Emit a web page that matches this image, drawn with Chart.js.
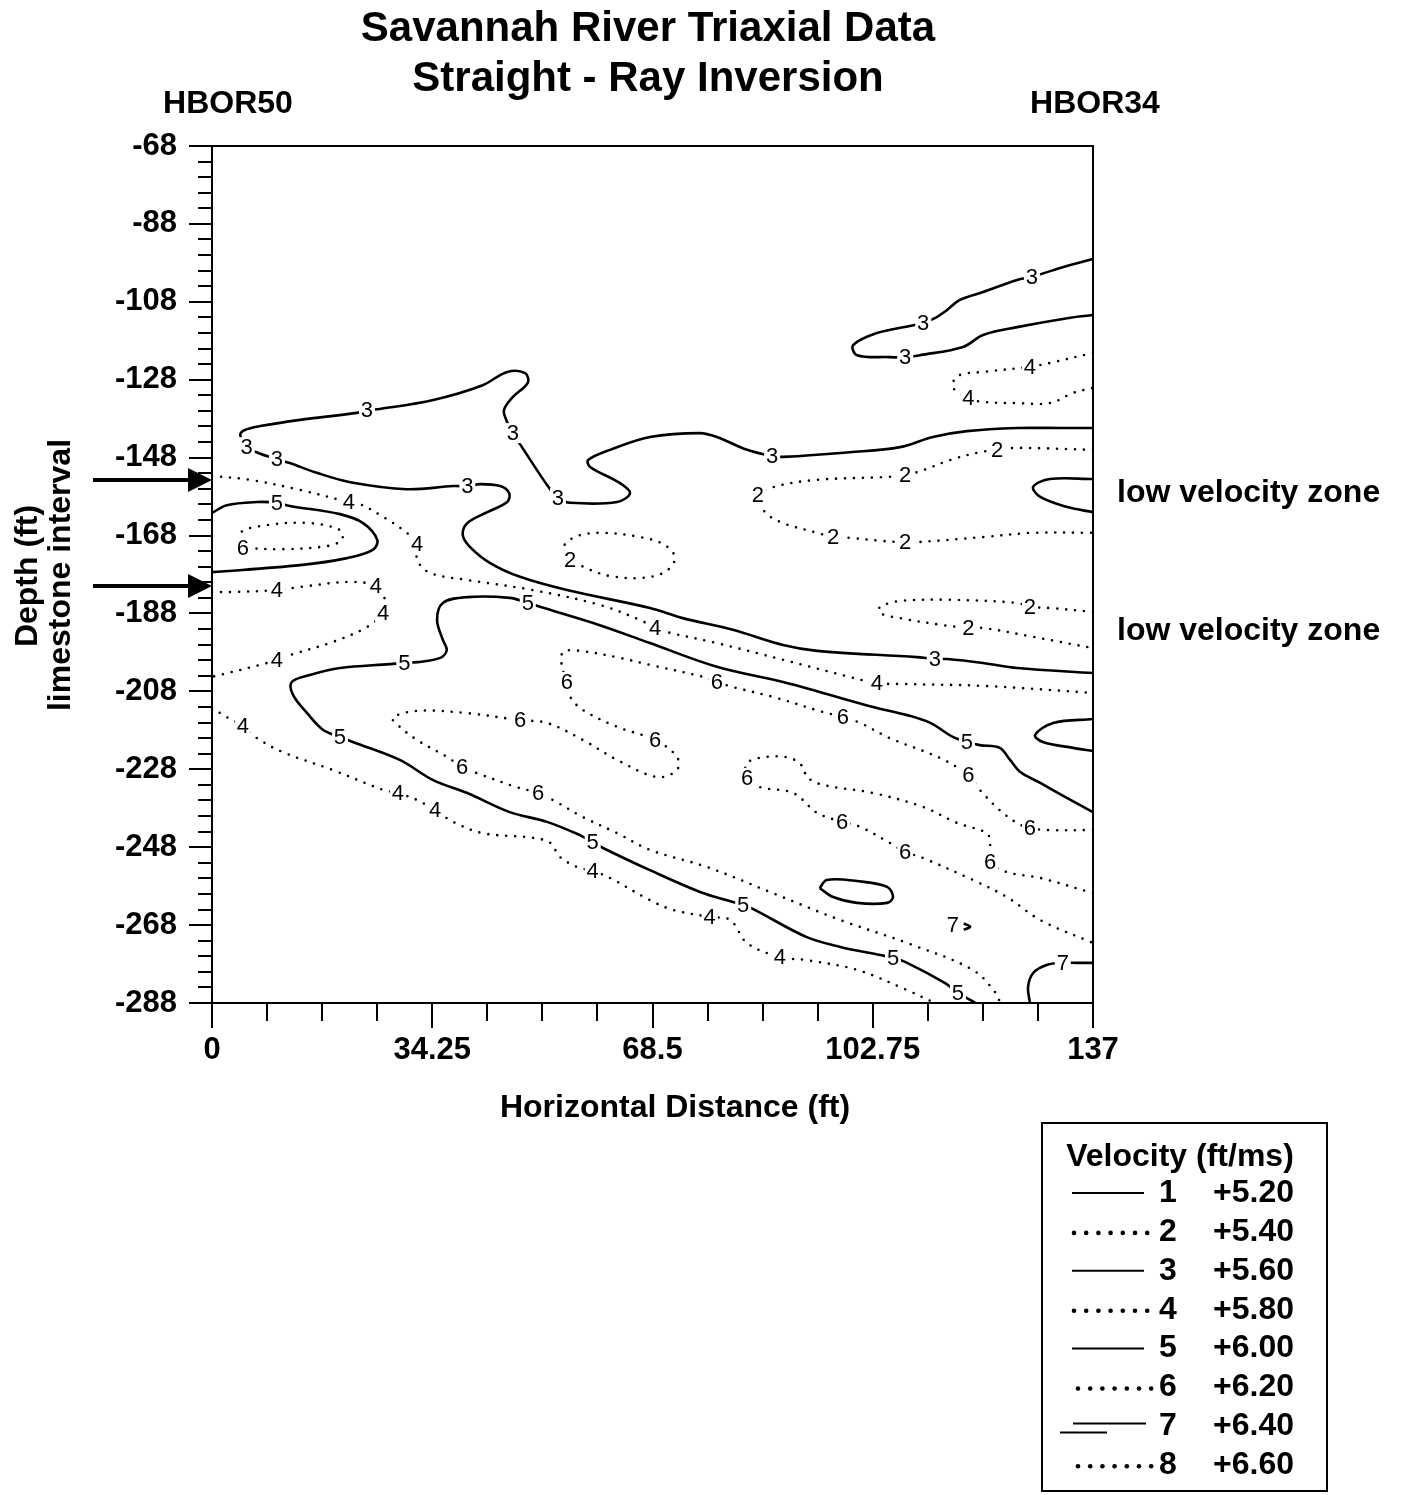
<!DOCTYPE html>
<html>
<head>
<meta charset="utf-8">
<script src="https://cdn.jsdelivr.net/npm/chart.js@4.4.1/dist/chart.umd.min.js"></script>
<style>
  html, body { margin: 0; padding: 0; background: #fff; }
  #wrap { width: 1401px; height: 1495px; }
</style>
</head>
<body>
<div id="wrap"><canvas id="chart" width="1401" height="1495"></canvas></div>
<script>
const FONT = '"Liberation Sans", Arial, Helvetica, sans-serif';

// legend: contour level -> velocity (ft/ms)
const levels = [1, 2, 3, 4, 5, 6, 7, 8];
const velocities = [5.20, 5.40, 5.60, 5.80, 6.00, 6.20, 6.40, 6.60];

// axes (horizontal distance ft, depth ft)
const xTicks = [0, 34.25, 68.5, 102.75, 137];
const xTickLabels = ['0', '34.25', '68.5', '102.75', '137'];
const yTicks = [-68, -88, -108, -128, -148, -168, -188, -208, -228, -248, -268, -288];
const xMinorTicks = Array.from({ length: 17 }, (_, i) => i * 8.5625);
const yMinorTicks = Array.from({ length: 56 }, (_, i) => -68 - i * 4);

// contour lines, [distance, depth]
const c3a = [[137,-140.4],[131.9,-140.4],[125.2,-140.4],[117.4,-141.2],[112.1,-142.7],[107.0,-145.3],[99.2,-146.6],[88.8,-147.8],[87.1,-147.6],[83.2,-146.0],[78.5,-142.7],[75.9,-141.7],[68.1,-142.7],[61.9,-146.0],[58.5,-148.6],[58.8,-150.4],[63.4,-154.5],[65.0,-157.1],[63.0,-159.4],[55.7,-159.6],[53.8,-158.4],[52.3,-155.5],[48.2,-145.3],[46.8,-141.7],[45.9,-138.9],[45.4,-135.8],[46.8,-132.4],[49.1,-128.8],[48.7,-126.3],[45.9,-126.0],[42.1,-129.4],[34.4,-133.2],[26.1,-135.5],[24.1,-135.8],[22.5,-136.5],[13.7,-138.3],[7.5,-139.9],[5.1,-140.9],[4.4,-142.2],[5.4,-145.3],[7.2,-146.8],[10.1,-148.4],[12.1,-149.4],[16.3,-151.9],[21.5,-154.3],[30.3,-156.1],[37.5,-155.3],[39.7,-155.3],[41.7,-154.8],[44.8,-155.3],[46.2,-157.1],[45.9,-159.4],[42.8,-162.0],[39.7,-164.8],[39.0,-167.9],[40.1,-170.9],[43.2,-175.0],[47.9,-178.6],[55.2,-182.0],[68.1,-186.6],[73.2,-189.2],[81.0,-192.2],[88.8,-196.1],[94.1,-197.6],[109.6,-199.2],[112.4,-199.7],[114.3,-199.7],[119.9,-200.7],[125.2,-202.0],[137,-203.3]];
const c3b = [[137,-97.0],[131.9,-99.3],[127.5,-101.6],[125.2,-102.4],[119.9,-105.5],[116.3,-107.5],[114.3,-110.1],[112.4,-112.2],[110.6,-113.4],[108.5,-114.2],[103.4,-116.0],[99.7,-119.1],[100.3,-121.7],[105.4,-122.2],[107.8,-122.2],[110.1,-121.7],[116.8,-119.6],[119.9,-116.5],[125.2,-114.5],[133.0,-112.2],[137,-111.4]];
const c4top = [[137,-121.1],[130.3,-123.7],[127.2,-124.7],[119.9,-126.0],[116.0,-127.0],[115.2,-129.9],[117.6,-132.7],[119.9,-133.7],[125.2,-134.0],[130.3,-134.0],[133.9,-131.4],[137,-130.1]];
const c2top = [[137,-146.0],[125.2,-145.5],[122.1,-146.0],[119.4,-146.6],[114.8,-148.6],[110.6,-151.2],[107.8,-152.5],[104.3,-153.0],[94.1,-153.7],[87.9,-155.3],[84.9,-157.6],[86.0,-162.0],[88.8,-164.8],[94.1,-167.3],[96.6,-168.4],[99.2,-168.6],[104.3,-169.4],[107.8,-169.7],[109.6,-169.7],[119.9,-168.4],[127.7,-167.3],[137,-167.3]];
const c1upper = [[137,-153.5],[130.3,-153.5],[127.7,-155.5],[128.8,-158.1],[133.0,-160.7],[137,-162.0]];
const c1lower = [[137,-215.1],[130.8,-216.1],[128.0,-219.2],[129.2,-221.0],[133.9,-222.5],[137,-223.3]];
const c2loop = [[55.7,-174.3],[54.6,-171.2],[56.4,-168.4],[60.3,-167.3],[66.6,-168.4],[70.4,-170.4],[72.0,-173.8],[70.4,-177.4],[66.6,-178.9],[61.9,-178.4],[58.8,-176.8],[55.7,-174.3]];
const c6loop = [[4.8,-171.2],[4.4,-167.3],[8.6,-165.3],[15.2,-164.8],[19.9,-166.6],[20.2,-169.1],[17.9,-170.7],[11.0,-171.5],[4.8,-171.2]];
const c5left = [[0,-162.2],[2.3,-160.2],[7.0,-159.4],[10.1,-159.6],[12.1,-160.4],[19.9,-162.5],[23.5,-164.8],[25.7,-169.1],[25.0,-171.7],[21.0,-173.8],[13.7,-175.6],[0,-177.4]];
const c4a = [[0,-152.7],[5.9,-153.7],[13.7,-156.3],[21.3,-159.4],[23.0,-159.9],[26.6,-163.2],[30.3,-167.3],[31.9,-170.2],[31.9,-174.3],[33.9,-177.6],[39.7,-179.4],[49.9,-182.0],[60.3,-185.8],[66.6,-189.7],[68.9,-191.7],[70.8,-192.8],[78.5,-195.6],[88.8,-199.9],[99.2,-204.3],[103.4,-205.9],[107.0,-206.1],[119.9,-206.6],[137,-208.4]];
const c4b = [[0,-182.5],[3.3,-182.5],[10.1,-182.0],[13.7,-181.2],[21.5,-179.9],[25.5,-181.0],[26.9,-184.5],[26.6,-187.9],[24.1,-191.5],[18.8,-195.3],[12.1,-198.7],[10.1,-199.9],[7.5,-201.2],[1.2,-203.8],[0,-204.3]];
const c4c = [[0,-212.3],[2.3,-214.6],[4.8,-216.9],[7.0,-220.0],[11.0,-223.6],[18.8,-228.2],[26.6,-233.3],[28.9,-234.1],[31.9,-235.9],[34.7,-238.5],[37.5,-241.5],[42.1,-244.4],[49.9,-245.6],[52.6,-246.9],[54.1,-250.5],[56.8,-253.1],[59.2,-254.1],[61.9,-255.9],[68.1,-261.6],[71.7,-264.1],[77.4,-265.9],[80.6,-266.7],[83.2,-272.6],[88.3,-276.2],[92.5,-277.0],[100.3,-279.5],[108.1,-284.7],[112.4,-288]];
const c5b = [[118.7,-288],[117.9,-287.2],[116.0,-285.4],[114.0,-282.9],[108.1,-277.7],[105.9,-276.4],[103.9,-275.7],[97.7,-273.6],[92.5,-271.1],[84.4,-264.1],[82.6,-262.8],[81.0,-262.1],[75.9,-259.5],[68.1,-253.9],[60.8,-248.2],[59.2,-246.7],[57.2,-244.9],[52.1,-241.5],[46.3,-239.0],[39.7,-234.1],[34.4,-230.8],[29.2,-225.6],[21.9,-221.0],[19.9,-219.7],[17.3,-217.9],[14.8,-213.6],[12.6,-208.9],[12.4,-205.6],[15.2,-203.8],[19.9,-202.0],[27.7,-201.0],[29.9,-200.7],[31.9,-200.5],[35.5,-199.4],[36.5,-197.4],[35.9,-194.8],[35.0,-189.7],[35.9,-185.3],[39.7,-183.8],[46.3,-184.0],[49.1,-185.3],[51.0,-186.3],[60.3,-191.0],[68.1,-195.6],[78.5,-201.7],[88.8,-205.6],[95.0,-208.4],[102.8,-212.0],[108.1,-214.1],[111.7,-216.1],[115.2,-219.7],[117.4,-221.0],[119.4,-221.8],[122.5,-222.5],[124.1,-225.6],[125.7,-228.7],[128.8,-231.5],[133.0,-235.4],[137,-239.0]];
const c7loop = [[94.5,-258.5],[95.6,-256.4],[100.3,-256.7],[105.0,-258.2],[105.9,-260.8],[105.0,-262.3],[100.3,-262.3],[96.6,-260.8],[94.5,-258.5]];
const c7corner = [[127.2,-288],[126.9,-283.9],[127.7,-280.3],[129.9,-278.2],[132.3,-277.7],[134.5,-277.7],[137,-277.7]];
const c7tick = [[116.9,-267.6],[117.9,-268.4],[116.9,-269.2]];
const c6a = [[137,-243.6],[129.9,-243.6],[127.2,-243.1],[125.2,-241.8],[122.5,-238.5],[119.4,-233.3],[117.6,-229.5],[113.2,-225.1],[105.4,-220.0],[100.8,-216.1],[98.1,-214.6],[95.0,-213.3],[87.2,-209.4],[81.0,-206.9],[78.5,-205.6],[76.4,-204.3],[68.1,-201.2],[63.4,-199.4],[57.2,-197.6],[54.6,-197.9],[54.4,-201.5],[55.2,-205.6],[55.7,-209.4],[57.7,-212.8],[63.0,-217.1],[68.9,-220.5],[72.3,-224.8],[72.3,-228.2],[69.2,-230.0],[63.0,-225.6],[57.7,-220.5],[52.1,-216.1],[47.9,-215.4],[39.7,-213.6],[31.9,-213.0],[28.1,-214.8],[29.2,-217.1],[31.9,-220.5],[36.5,-224.8],[38.9,-227.4],[41.2,-229.0],[47.4,-232.6],[50.7,-234.1],[53.0,-235.9],[57.7,-240.3],[63.0,-244.4],[68.1,-248.7],[77.0,-253.1],[87.2,-259.8],[97.7,-266.7],[108.1,-272.6],[118.3,-279.5],[122.1,-285.9],[122.5,-288]];
const c6b = [[137,-259.8],[128.8,-255.9],[123.6,-254.4],[121.0,-251.8],[121.0,-246.9],[120.5,-244.4],[115.9,-241.8],[110.6,-237.7],[102.8,-234.1],[95.0,-232.0],[92.5,-230.0],[91.9,-227.4],[89.9,-225.1],[86.3,-224.8],[83.2,-226.4],[83.2,-230.2],[85.2,-232.6],[90.4,-234.1],[94.1,-239.2],[98.0,-241.5],[100.8,-242.8],[105.4,-246.9],[107.8,-249.2],[110.6,-250.8],[118.3,-256.4],[123.6,-260.8],[128.8,-266.7],[137,-272.6]];
const c2low = [[137,-187.6],[130.3,-186.6],[127.2,-186.3],[125.2,-185.3],[114.8,-184.5],[107.0,-184.8],[103.9,-186.3],[103.9,-187.9],[107.0,-189.2],[113.7,-191.0],[117.6,-191.7],[119.9,-191.7],[127.7,-194.0],[137,-196.9]];

// contour labels: [level, distance, depth]
const contourLabels = [
  [3,87.1,-147.6],[3,53.8,-158.4],[3,46.8,-141.7],[3,24.1,-135.8],[3,5.4,-145.3],[3,10.1,-148.4],[3,39.7,-155.3],[3,112.4,-199.7],
  [3,127.5,-101.6],[3,110.6,-113.4],[3,107.8,-122.2],
  [4,127.2,-124.7],[4,117.6,-132.7],
  [2,122.1,-146.0],[2,107.8,-152.5],[2,84.9,-157.6],[2,96.6,-168.4],[2,107.8,-169.7],
  [2,55.7,-174.3],[6,4.8,-171.2],[5,10.1,-159.6],
  [4,21.3,-159.4],[4,31.9,-170.2],[4,68.9,-191.7],[4,103.4,-205.9],
  [4,10.1,-182.0],[4,25.5,-181.0],[4,26.6,-187.9],[4,10.1,-199.9],
  [4,4.8,-216.9],[4,28.9,-234.1],[4,34.7,-238.5],[4,59.2,-254.1],[4,77.4,-265.9],[4,88.3,-276.2],
  [5,116.0,-285.4],[5,105.9,-276.4],[5,82.6,-262.8],[5,59.2,-246.7],[5,19.9,-219.7],[5,29.9,-200.7],[5,49.1,-185.3],[5,117.4,-221.0],
  [7,132.3,-277.7],[7,115.2,-268.0],
  [6,127.2,-243.1],[6,117.6,-229.5],[6,98.1,-214.6],[6,78.5,-205.6],[6,55.2,-205.6],[6,68.9,-220.5],[6,47.9,-215.4],[6,38.9,-227.4],[6,50.7,-234.1],
  [6,121.0,-251.8],[6,83.2,-230.2],[6,98.0,-241.5],[6,107.8,-249.2],
  [2,127.2,-186.3],[2,117.6,-191.7]
];

const contourList = [
  [3, c3a], [3, c3b], [4, c4top], [2, c2top], [1, c1upper], [1, c1lower],
  [2, c2loop], [6, c6loop], [5, c5left], [4, c4a], [4, c4b], [4, c4c],
  [5, c5b], [7, c7loop], [7, c7corner], [7, c7tick], [6, c6a], [6, c6b], [2, c2low]
];

const datasets = contourList.map(([level, pts]) => {
  const solid = level % 2 === 1;
  return {
    data: pts.map(p => ({ x: p[0], y: p[1] })),
    showLine: true,
    pointRadius: 0,
    borderColor: '#000',
    borderWidth: solid ? 2.6 : 2.6,
    borderDash: solid ? [] : [0, 9],
    borderCapStyle: solid ? 'butt' : 'round',
    tension: 0.35,
    fill: false
  };
});

const labelPlugin = {
  id: 'contourLabels',
  afterDatasetsDraw(chart) {
    const { ctx, scales: { x, y } } = chart;
    ctx.save();
    ctx.font = '22px ' + FONT;
    ctx.textAlign = 'center';
    ctx.textBaseline = 'middle';
    contourLabels.forEach(([lv, vx, vy]) => {
      const px = x.getPixelForValue(vx);
      const py = y.getPixelForValue(vy);
      ctx.fillStyle = '#fff';
      ctx.fillRect(px - 8, py - 10, 16, 20);
      ctx.fillStyle = '#000';
      ctx.fillText(String(lv), px, py + 1);
    });
    ctx.restore();
  }
};

const decorPlugin = {
  id: 'decor',
  afterDraw(chart) {
    const { ctx, chartArea: a } = chart;
    ctx.save();
    ctx.strokeStyle = '#000';
    ctx.fillStyle = '#000';
    ctx.lineWidth = 2;
    ctx.strokeRect(a.left, a.top, a.right - a.left, a.bottom - a.top);

    ctx.textAlign = 'center';
    ctx.textBaseline = 'middle';
    ctx.font = 'bold 42px ' + FONT;
    ctx.fillText('Savannah River Triaxial Data', 648, 29);
    ctx.fillText('Straight - Ray Inversion', 648, 79);

    ctx.font = 'bold 32px ' + FONT;
    ctx.fillText('HBOR50', 228, 104);
    ctx.fillText('HBOR34', 1095, 104);
    ctx.fillText('Horizontal Distance (ft)', 675, 1108);

    ctx.textAlign = 'left';
    ctx.fillText('low velocity zone', 1117, 493);
    ctx.fillText('low velocity zone', 1117, 631);

    ctx.save();
    ctx.translate(28, 576);
    ctx.rotate(-Math.PI / 2);
    ctx.textAlign = 'center';
    ctx.fillText('Depth (ft)', 0, 0);
    ctx.restore();
    ctx.save();
    ctx.translate(61, 575);
    ctx.rotate(-Math.PI / 2);
    ctx.textAlign = 'center';
    ctx.fillText('limestone interval', 0, 0);
    ctx.restore();

    // limestone interval arrows
    [480, 586].forEach(ay => {
      ctx.fillRect(93, ay - 2, 98, 4);
      ctx.beginPath();
      ctx.moveTo(212, ay);
      ctx.lineTo(188, ay - 12);
      ctx.lineTo(188, ay + 12);
      ctx.closePath();
      ctx.fill();
    });

    // legend
    ctx.lineWidth = 2;
    ctx.strokeRect(1042, 1123, 285, 368);
    ctx.textAlign = 'center';
    ctx.font = 'bold 32px ' + FONT;
    ctx.fillText('Velocity (ft/ms)', 1180, 1157);
    levels.forEach((lv, i) => {
      const ry = 1193 + i * 38.9;
      ctx.textAlign = 'center';
      ctx.fillText(String(lv), 1168, ry);
      ctx.textAlign = 'left';
      ctx.fillText('+' + velocities[i].toFixed(2), 1213, ry);
      if (lv === 7) {
        ctx.lineWidth = 2;
        ctx.beginPath();
        ctx.moveTo(1073, ry - 3); ctx.lineTo(1146, ry - 3);
        ctx.moveTo(1060, ry + 6); ctx.lineTo(1107, ry + 6);
        ctx.stroke();
      } else if (lv % 2 === 1) {
        ctx.lineWidth = 2;
        ctx.beginPath();
        ctx.moveTo(1072, ry); ctx.lineTo(1144, ry);
        ctx.stroke();
      } else {
        const x0 = lv === 2 || lv === 4 ? 1074 : 1078;
        for (let k = 0; k < 7; k++) {
          ctx.beginPath();
          ctx.arc(x0 + k * 12.2, ry + 1, 2.3, 0, Math.PI * 2);
          ctx.fill();
        }
      }
    });
    ctx.restore();
  }
};

const tickFont = { family: FONT, size: 31, weight: 'bold' };

new Chart(document.getElementById('chart'), {
  type: 'scatter',
  data: { datasets },
  plugins: [labelPlugin, decorPlugin],
  options: {
    responsive: false,
    animation: false,
    events: [],
    devicePixelRatio: 1,
    layout: { padding: { left: 0, right: 308, top: 146, bottom: 432 } },
    plugins: { legend: { display: false }, tooltip: { enabled: false }, title: { display: false } },
    scales: {
      x: {
        type: 'linear', position: 'bottom', weight: 0, min: 0, max: 137,
        afterBuildTicks: s => { s.ticks = xMinorTicks.map(v => ({ value: v })); },
        afterFit: s => { s.height = 0; },
        ticks: { display: false },
        grid: { drawOnChartArea: false, drawTicks: true, tickLength: 18, color: '#000', lineWidth: 2 },
        border: { display: false }
      },
      xMajor: {
        type: 'linear', position: 'bottom', weight: 1, min: 0, max: 137,
        afterBuildTicks: s => { s.ticks = xTicks.map(v => ({ value: v })); },
        afterFit: s => { s.height = 60; },
        ticks: { color: '#000', font: tickFont, padding: 4, autoSkip: false, maxRotation: 0,
          callback: v => xTickLabels[xTicks.indexOf(v)] },
        grid: { drawOnChartArea: false, drawTicks: true, tickLength: 25, color: '#000', lineWidth: 2 },
        border: { display: false }
      },
      y: {
        type: 'linear', position: 'left', weight: 0, min: -288, max: -68,
        afterBuildTicks: s => { s.ticks = yMinorTicks.map(v => ({ value: v })); },
        afterFit: s => { s.width = 0; },
        ticks: { display: false },
        grid: { drawOnChartArea: false, drawTicks: true, tickLength: 14, color: '#000', lineWidth: 2 },
        border: { display: false }
      },
      yMajor: {
        type: 'linear', position: 'left', weight: 1, min: -288, max: -68,
        afterBuildTicks: s => { s.ticks = yTicks.map(v => ({ value: v })); },
        afterFit: s => { s.width = 212; },
        ticks: { color: '#000', font: tickFont, padding: 12, autoSkip: false,
          callback: v => String(v) },
        grid: { drawOnChartArea: false, drawTicks: true, tickLength: 23, color: '#000', lineWidth: 2 },
        border: { display: false }
      }
    }
  }
});
</script>
</body>
</html>
